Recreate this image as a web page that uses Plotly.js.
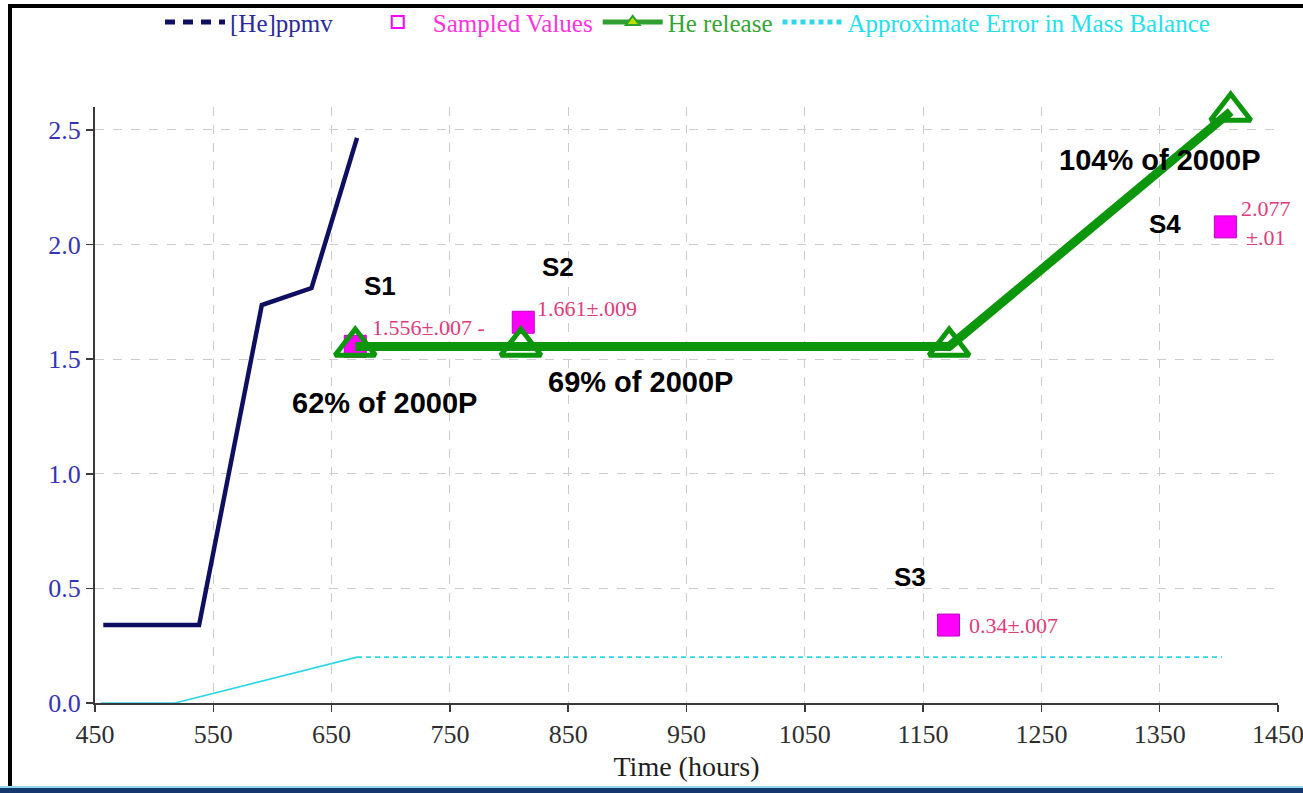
<!DOCTYPE html>
<html>
<head>
<meta charset="utf-8">
<script src="https://cdn.plot.ly/plotly-3.0.1.min.js"></script>
<style>
  html, body { margin: 0; padding: 0; background: #ffffff; }
  #chart { position: absolute; left: 0; top: 0; width: 1303px; height: 793px; }
  .frame { position: absolute; pointer-events: none; }
</style>
</head>
<body>
<div id="chart"></div>
<div class="frame" style="left:8px; top:4px; width:1295px; height:4px; background:#000;"></div>
<div class="frame" style="left:8px; top:4px; width:4px; height:784px; background:#000;"></div>
<div class="frame" style="left:0px; top:786px; width:1303px; height:2px; background:#8fd8f0;"></div>
<div class="frame" style="left:0px; top:788px; width:1303px; height:5px; background:#14386e;"></div>
<script>
// ---- data ----
const ppmvHours  = [457, 538, 591, 633, 671.5];
const ppmvValues = [0.34, 0.34, 1.736, 1.81, 2.465];

const sampleHours  = [670, 812, 1171.5, 1405.5];
const sampleValues = [1.556, 1.661, 0.34, 2.077];
const sampleLabels = ['1.556\u00b1.007 -', '1.661\u00b1.009', '0.34\u00b1.007', '2.077<br>\u00b1.01'];

const releaseHours  = [670, 810, 1172, 1410];
const releaseValues = [1.555, 1.555, 1.555, 2.58];

const errorHours  = [455, 517.6, 671.5, 1402.7];
const errorValues = [0, 0, 0.2, 0.2];
const errorSolidEnd = 3; // first three points drawn solid, rest dashed

const sampleNames = ['S1', 'S2', 'S3', 'S4'];
const sampleNameHours  = [691, 841, 1139, 1354.5];
const sampleNameValues = [1.82, 1.90, 0.55, 2.09];

const pctLabels = ['62% of 2000P', '69% of 2000P', '104% of 2000P'];
const pctHours  = [695, 910.7, 1350];
const pctValues = [1.31, 1.40, 2.37];

const legendNames = ['[He]ppmv', 'Sampled Values', 'He release', 'Approximate Error in Mass Balance'];
const legendPad = [4, 0, 0, 0];

const xTickStart = 450, xTickStep = 100;

// label offsets (px) from each sampled marker
const labelDx = [15, 12, 18, 14];
const labelDy = [19, 14, 0, 4];

// ---- colours ----
const NAVY = '#0f0f62', MAGENTA = '#ff00ff', GREEN = '#0b960b', CYAN = '#2fd6e6', LABEL = '#e03c7c';
const legendColors = ['#2a2a9a', '#ff33dd', '#35a535', '#22e0ee'];
const legName = i => '<span style="color:' + legendColors[i] + '">' + legendNames[i] + '</span>' + '\u00a0'.repeat(legendPad[i]);

const traces = [
  {x: errorHours.slice(0, errorSolidEnd), y: errorValues.slice(0, errorSolidEnd), mode: 'lines',
   line: {color: CYAN, width: 1.6}, showlegend: false, hoverinfo: 'skip'},
  {x: errorHours.slice(errorSolidEnd - 1), y: errorValues.slice(errorSolidEnd - 1), mode: 'lines',
   line: {color: CYAN, width: 1.6, dash: '5px,4px'}, showlegend: false, hoverinfo: 'skip'},
  {x: ppmvHours, y: ppmvValues, mode: 'lines', line: {color: NAVY, width: 4.5}, showlegend: false},
  {x: sampleHours, y: sampleValues, mode: 'markers',
   marker: {symbol: 'square', size: 22, color: MAGENTA, line: {color: '#c000c0', width: 1}},
   cliponaxis: false, showlegend: false},
  {x: releaseHours, y: releaseValues, mode: 'lines+markers', line: {color: GREEN, width: 9},
   marker: {symbol: 'triangle-up-open', size: 35, color: GREEN, line: {color: GREEN, width: 5}},
   cliponaxis: false, showlegend: false},
  // legend entries
  {x: [null], y: [null], mode: 'lines', name: legName(0),
   line: {color: NAVY, width: 4, dash: '10px,8px'}},
  {x: [null], y: [null], mode: 'markers', name: legName(1),
   marker: {symbol: 'square-open', size: 9, color: MAGENTA, line: {width: 2}}},
  {x: [null], y: [null], mode: 'lines+markers', name: legName(2),
   line: {color: '#2f9f2f', width: 1.5}, marker: {symbol: 'triangle-up', size: 9, color: '#b8e000', line: {color: '#2f9f2f', width: 1}}},
  {x: [null], y: [null], mode: 'lines', name: legName(3),
   line: {color: CYAN, width: 1.5, dash: '5px,4px'}}
];

const annotations = [];
sampleLabels.forEach((t, i) => annotations.push({
  x: sampleHours[i], y: sampleValues[i], text: t, showarrow: false,
  xanchor: 'left', yanchor: 'middle', align: 'center', xshift: labelDx[i], yshift: labelDy[i],
  font: {family: 'Liberation Serif, serif', size: 22, color: LABEL}
}));
sampleNames.forEach((t, i) => annotations.push({
  x: sampleNameHours[i], y: sampleNameValues[i], text: '<b>' + t + '</b>', showarrow: false,
  font: {family: 'Liberation Sans, Arial, sans-serif', size: 26, color: '#000'}
}));
pctLabels.forEach((t, i) => annotations.push({
  x: pctHours[i], y: pctValues[i], text: '<b>' + t + '</b>', showarrow: false,
  font: {family: 'Liberation Sans, Arial, sans-serif', size: 29, color: '#000'}
}));

const layout = {
  width: 1303, height: 793,
  margin: {l: 95, r: 25, t: 107, b: 90, pad: 0},
  paper_bgcolor: '#ffffff', plot_bgcolor: '#ffffff',
  showlegend: true,
  legend: {orientation: 'h', xref: 'container', yref: 'container', x: 0.1228, xanchor: 'left', y: 0.972, yanchor: 'middle',
           itemwidth: 60,
           font: {family: 'Liberation Serif, serif', size: 25, color: '#333'},
           bgcolor: 'rgba(0,0,0,0)', itemsizing: 'constant', traceorder: 'normal'},
  xaxis: {range: [450, 1450], tick0: xTickStart, dtick: xTickStep, tickmode: 'linear',
          ticklabeloverflow: 'allow',
          showline: true, linecolor: '#3a3a3a', linewidth: 2, ticks: 'outside', ticklen: 7, tickwidth: 1.5, tickcolor: '#3a3a3a',
          showgrid: true, gridcolor: '#cccccc', griddash: 'dash', gridwidth: 1, zeroline: false,
          tickfont: {family: 'Liberation Serif, serif', size: 26, color: '#2e2e2e'},
          title: {text: 'Time (hours)', font: {family: 'Liberation Serif, serif', size: 28, color: '#1e1e1e'}, standoff: 8}},
  yaxis: {range: [0, 2.6], tick0: 0, dtick: 0.5, tickmode: 'linear', tickformat: '.1f',
          showline: true, linecolor: '#3a3a3a', linewidth: 2, ticks: 'outside', ticklen: 7, tickwidth: 1.5, tickcolor: '#3a3a3a',
          showgrid: true, gridcolor: '#cccccc', griddash: 'dash', gridwidth: 1, zeroline: false,
          tickfont: {family: 'Liberation Serif, serif', size: 26, color: '#3434b4'}},
  annotations: annotations
};

Plotly.newPlot('chart', traces, layout, {displayModeBar: false, staticPlot: true});
</script>
</body>
</html>
